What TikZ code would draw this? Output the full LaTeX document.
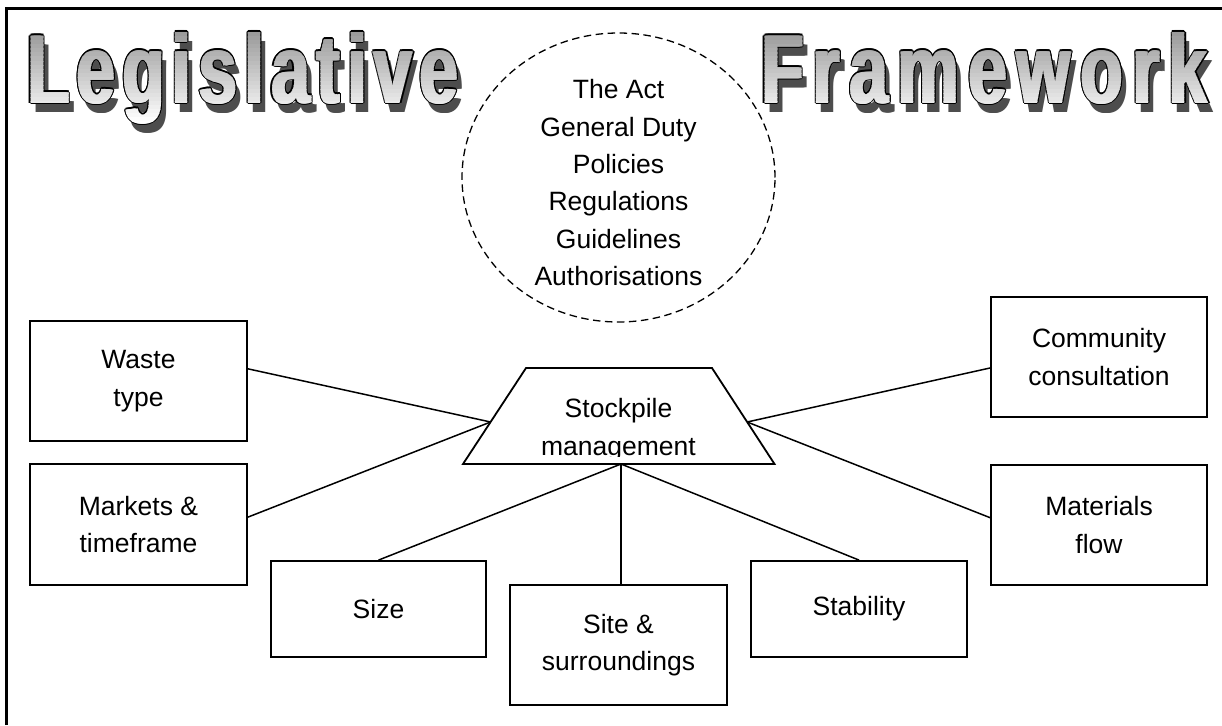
\documentclass[tikz,border=0pt]{standalone}
\usepackage{fontspec}
\setmainfont{Liberation Sans}
\usepackage{graphicx}
\usetikzlibrary{calc,shapes.geometric}
\definecolor{shadowgray}{HTML}{4D4D4D}
\newcommand{\TitleFont}{\fontsize{98}{98}\selectfont\bfseries}
\newcommand{\LegSp}{\kern10.9pt}
\newcommand{\FraSp}{\kern14.3pt}
\newcommand{\LegWord}{\scalebox{0.7}[1]{\TitleFont L\LegSp e\LegSp g\LegSp i\LegSp s\LegSp l\LegSp a\LegSp t\LegSp i\LegSp v\LegSp e}}
\newcommand{\FraWord}{\scalebox{0.7}[1]{\TitleFont F\FraSp r\FraSp a\FraSp m\FraSp e\FraSp w\FraSp o\FraSp r\FraSp k}}
\newcommand{\BodyFont}{\fontsize{26.5}{37.4}\selectfont}
% #1 name, #2 left x of baseline, #3 word, #4 right limit of the word
\newcommand{\WordArtFace}[4]{%
  \foreach \sx in {0,1.5,3}
    \node[titlenode, text=shadowgray] at (#2+5+\sx,112) {#3};
  \foreach \dx/\dy in {-1.1/0,4.1/0,0/1.1,0/-1.1,1.5/1.1,1.5/-1.1,3/1.1,3/-1.1,-0.8/0.8,-0.8/-0.8,3.8/0.8,3.8/-0.8}
    \node[titlenode, text=black] at (#2+\dx,103+\dy) {#3};
  \foreach \i in {0,...,24} {
    \pgfmathsetmacro\ytop{29+4*\i}
    \pgfmathsetmacro\lev{min(1,0.60+0.40*(\ytop+2-33)/88)}
    \definecolor{stripcol}{gray}{\lev}
    \begin{scope}
      \clip (#2-10,\ytop) rectangle (#4,\ytop+4.4);
      \foreach \sx in {0,1.5,3}
        \node[titlenode, text=stripcol] at (#2+\sx,103) {#3};
    \end{scope}
  }
  \node[titlenode, text opacity=0] (#1) at (#2,103) {#3};
}
\tikzset{
  titlenode/.style={inner sep=0pt, outer sep=0pt, anchor=base west},
  box/.style={draw, line width=1.8pt, inner sep=0pt, align=center, font=\BodyFont},
  link/.style={line width=1.5pt},
  lawring/.style={draw, ellipse, line width=1.3pt, dash pattern=on 7.5pt off 4.5pt, inner sep=0pt},
  plaintext/.style={inner sep=0pt, align=center, font=\BodyFont},
}
\begin{document}
\begin{tikzpicture}[x=1pt,y=-1pt]
\useasboundingbox (0,0) rectangle (1222,725);
\fill[white] (0,0) rectangle (1222,725);

% outer frame
\draw[line width=2.5pt] (6.5,725) -- (6.5,8.5) -- (1222,8.5);

% title
\WordArtFace{legis}{26}{\LegWord}{480}
\WordArtFace{frame}{760}{\FraWord}{1222}

% legislation ellipse
\node[lawring, minimum width=313pt, minimum height=289pt] (law) at (618.5,177.5) {};
\node[plaintext, anchor=north] (lawtext) at (618.5,79.3)
  {The Act\\General Duty\\Policies\\Regulations\\Guidelines\\Authorisations};

% stockpile trapezoid
\coordinate (tl) at (526,368);
\coordinate (tr) at (712,368);
\coordinate (br) at (774.5,464);
\coordinate (bl) at (463,464);
\draw[line width=1.8pt] (tl) -- (tr) -- (br) -- (bl) -- cycle;
\begin{scope}
  \clip (440,360) rectangle (800,456);
  \node[plaintext, anchor=north] (stock) at (618.5,398.3) {Stockpile\\management};
\end{scope}
\coordinate (tzL) at ($(bl)!0.4375!(tl)$);
\coordinate (tzR) at ($(br)!0.4375!(tr)$);
\coordinate (tzB) at (621,464);

% boxes
\node[box, minimum width=217pt, minimum height=120pt] (waste) at (138.5,381) {Waste\\type};
\node[box, minimum width=217pt, minimum height=121pt] (markets) at (138.5,524.5) {Markets \&\\timeframe};
\node[box, minimum width=216pt, minimum height=120pt] (community) at (1099,357) {Community\\consultation};
\node[box, minimum width=216pt, minimum height=120pt] (materials) at (1099,525) {Materials\\flow};
\node[box, minimum width=215pt, minimum height=96pt] (size) at (378.5,609) {Size};
\node[box, minimum width=217pt, minimum height=120pt] (site) at (618.5,645) {Site \&\\surroundings};
\node[box, minimum width=216pt, minimum height=96pt] (stability) at (859,609) {Stability};

% connectors
\draw[link] ($(waste.north east)!0.4!(waste.south east)$) -- (tzL);
\draw[link] ($(markets.north east)!0.44!(markets.south east)$) -- (tzL);
\draw[link] ($(community.north west)!0.59!(community.south west)$) -- (tzR);
\draw[link] ($(materials.north west)!0.44!(materials.south west)$) -- (tzR);
\draw[link] (tzB) -- (size.north);
\draw[link] (tzB) -- (tzB |- site.north);
\draw[link] (tzB) -- (stability.north);
\end{tikzpicture}
\end{document}
